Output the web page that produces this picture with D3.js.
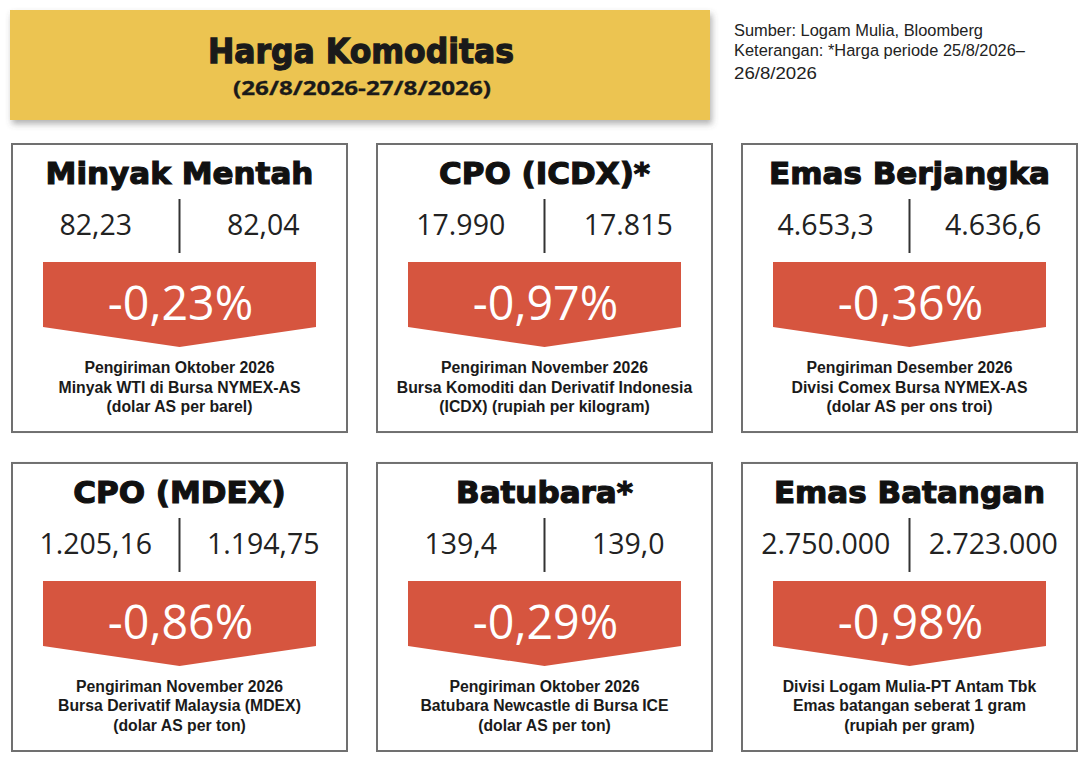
<!DOCTYPE html>
<html><head><meta charset="utf-8">
<script src="https://cdn.jsdelivr.net/npm/d3@7"></script>
<style>
html,body{margin:0;padding:0;background:#fff;}
svg{display:block;}
</style></head><body>
<svg id="c" width="1086" height="762"></svg>
<script>
// ---- data ----
const titleMain = "Harga Komoditas";
const titleSub = "(26/8/2026-27/8/2026)";
const sourceLines = ["Sumber: Logam Mulia, Bloomberg", "Keterangan: *Harga periode 25/8/2026–", "26/8/2026"];
const commodities = ["Minyak Mentah", "CPO (ICDX)*", "Emas Berjangka", "CPO (MDEX)", "Batubara*", "Emas Batangan"];
const pricesBefore = [82.23, 17990, 4653.3, 1205.16, 139.4, 2750000];
const pricesAfter = [82.04, 17815, 4636.6, 1194.75, 139.0, 2723000];
const priceDecimals = [2, 0, 1, 2, 1, 0];
const changes = [-0.23, -0.97, -0.36, -0.86, -0.29, -0.98];
const notes = [
  ["Pengiriman Oktober 2026", "Minyak WTI di Bursa NYMEX-AS", "(dolar AS per barel)"],
  ["Pengiriman November 2026", "Bursa Komoditi dan Derivatif Indonesia", "(ICDX) (rupiah per kilogram)"],
  ["Pengiriman Desember 2026", "Divisi Comex Bursa NYMEX-AS", "(dolar AS per ons troi)"],
  ["Pengiriman November 2026", "Bursa Derivatif Malaysia (MDEX)", "(dolar AS per ton)"],
  ["Pengiriman Oktober 2026", "Batubara Newcastle di Bursa ICE", "(dolar AS per ton)"],
  ["Divisi Logam Mulia-PT Antam Tbk", "Emas batangan seberat 1 gram", "(rupiah per gram)"]
];

// ---- formatting ----
const loc = d3.formatLocale({decimal: ",", thousands: ".", grouping: [3], currency: ["", ""], minus: "-"});
const fmtPrice = (v, d) => loc.format(",." + d + "f")(v);
const fmtPct = v => loc.format(".2f")(v) + "%";

const svg = d3.select("#c");
const defs = svg.append("defs");
const f = defs.append("filter").attr("id", "sh").attr("x", "-5%").attr("y", "-10%").attr("width", "115%").attr("height", "140%");
f.append("feDropShadow").attr("dx", 2).attr("dy", 4).attr("stdDeviation", 3).attr("flood-color", "#555").attr("flood-opacity", 0.45);

function squeeze(sel, factor) {
  sel.each(function () {
    const w = this.getComputedTextLength();
    this.setAttribute("textLength", w * factor);
    this.setAttribute("lengthAdjust", "spacingAndGlyphs");
  });
}
function fitTo(sel, width) {
  sel.attr("textLength", width).attr("lengthAdjust", "spacingAndGlyphs");
}

// ---- header ----
svg.append("rect").attr("x", 10).attr("y", 10).attr("width", 700).attr("height", 110)
  .attr("fill", "#ECC451").attr("filter", "url(#sh)");
svg.append("text").attr("x", 361).attr("y", 63).attr("text-anchor", "middle")
  .attr("font-family", "DejaVu Sans").attr("font-weight", 700).attr("font-size", 34)
  .attr("fill", "#1a1a1a").attr("stroke", "#1a1a1a").attr("stroke-width", 1.3)
  .text(titleMain).call(fitTo, 306);
svg.append("text").attr("x", 362).attr("y", 95).attr("text-anchor", "middle")
  .attr("font-family", "Open Sans").attr("font-weight", 700).attr("font-size", 20)
  .attr("fill", "#1a1a1a").attr("stroke", "#1a1a1a").attr("stroke-width", 0.3)
  .text(titleSub).call(fitTo, 258);

const srcW = [249, 291, 83];
const srcY = [35.5, 55.5, 79];
svg.append("g").selectAll("text").data(sourceLines).join("text")
  .attr("font-family", "Liberation Sans").attr("font-size", 17.2).attr("fill", "#222")
  .attr("x", 734).attr("y", (d, i) => srcY[i])
  .text(d => d).each(function (d, i) { d3.select(this).call(fitTo, srcW[i]); });

// ---- card grid via band scales ----
const col = d3.scaleBand().domain([0, 1, 2]).range([12, 1077]).paddingInner(0.0822);
const row = d3.scaleBand().domain([0, 1]).range([144, 751]).paddingInner(0.097);
const cw = col.bandwidth(), ch = row.bandwidth();

const cards = svg.append("g").selectAll("g").data(commodities).join("g")
  .attr("transform", (d, i) => `translate(${col(i % 3)},${row(Math.floor(i / 3))})`);

cards.append("rect").attr("x", 0).attr("y", 0).attr("width", cw).attr("height", ch)
  .attr("fill", "#fff").attr("stroke", "#707070").attr("stroke-width", 2);

cards.append("text").attr("x", cw / 2).attr("y", 40).attr("text-anchor", "middle")
  .attr("font-family", "DejaVu Sans").attr("font-weight", 700).attr("font-size", 31)
  .attr("fill", "#111").attr("stroke", "#111").attr("stroke-width", 1.2)
  .text(d => d);

// values
const half = d3.scaleBand().domain(["before", "after"]).range([0, cw]);
cards.append("text").attr("x", half("before") + half.bandwidth() / 2).attr("y", 91).attr("text-anchor", "middle")
  .attr("font-family", "Open Sans").attr("font-size", 30).attr("fill", "#222")
  .text((d, i) => fmtPrice(pricesBefore[i], priceDecimals[i])).call(squeeze, 0.95);
cards.append("text").attr("x", half("after") + half.bandwidth() / 2).attr("y", 91).attr("text-anchor", "middle")
  .attr("font-family", "Open Sans").attr("font-size", 30).attr("fill", "#222")
  .text((d, i) => fmtPrice(pricesAfter[i], priceDecimals[i])).call(squeeze, 0.95);
cards.append("line").attr("x1", cw / 2).attr("x2", cw / 2).attr("y1", 55).attr("y2", 109)
  .attr("stroke", "#333").attr("stroke-width", 2);

// banner arrow
const bw = 273, bx0 = (cw - bw) / 2, bx1 = bx0 + bw;
cards.append("path")
  .attr("d", `M${bx0},118 L${bx1},118 L${bx1},183 L${cw / 2},203 L${bx0},183 Z`)
  .attr("fill", "#D6553F");
cards.append("text").attr("x", cw / 2 + 1).attr("y", 176).attr("text-anchor", "middle")
  .attr("font-family", "Open Sans").attr("font-size", 48).attr("fill", "#fff")
  .text((d, i) => fmtPct(changes[i])).call(squeeze, 0.97);

// notes
cards.each(function (d, i) {
  d3.select(this).append("g").selectAll("text").data(notes[i]).join("text")
    .attr("text-anchor", "middle")
    .attr("font-family", "Liberation Sans").attr("font-weight", 700).attr("font-size", 16.8)
    .attr("fill", "#1a1a1a")
    .attr("x", cw / 2).attr("y", (t, j) => 229 + j * 19.5)
    .text(t => t).call(squeeze, 0.94);
});
</script>
</body></html>
